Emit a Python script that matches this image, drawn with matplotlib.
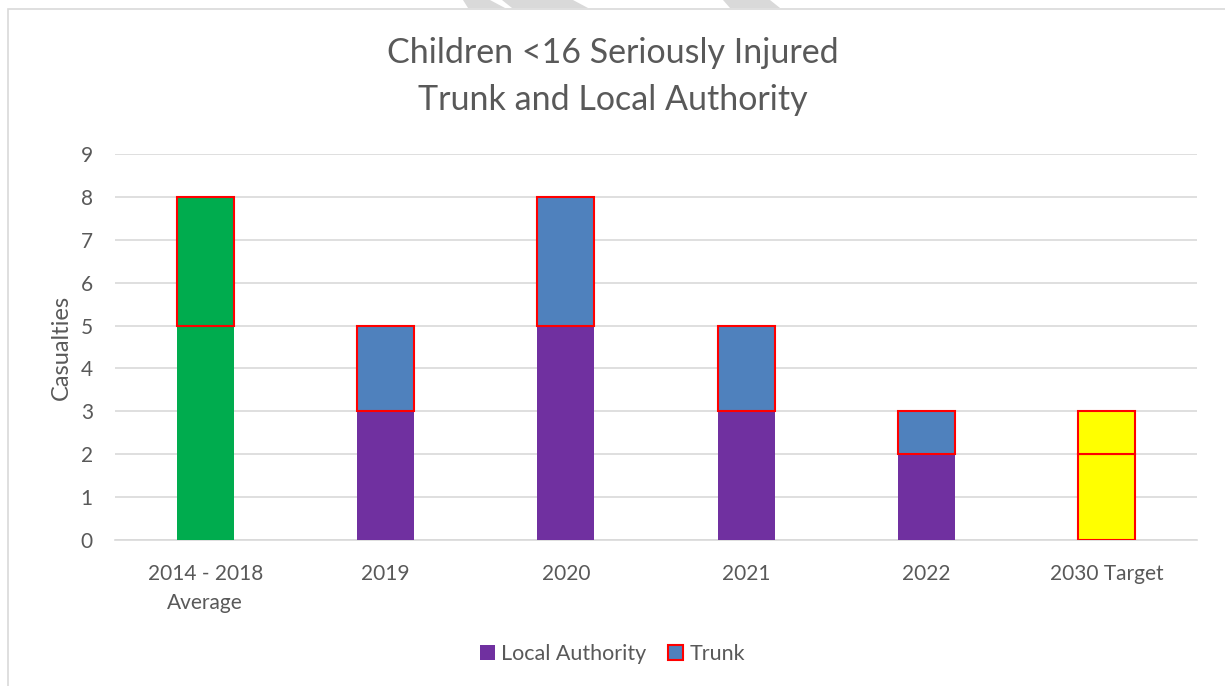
import matplotlib.pyplot as plt
from matplotlib.patches import Rectangle, Polygon, Patch

plt.rcParams['font.family'] = ['Lato', 'DejaVu Sans']

categories = ['2014 - 2018\nAverage', '2019', '2020', '2021', '2022', '2030 Target']
local_authority = [5, 3, 5, 3, 2, 2]
trunk = [3, 2, 3, 2, 1, 1]

la_colors = ['#00ac4e', '#7030a0', '#7030a0', '#7030a0', '#7030a0', '#ffff00']
trunk_colors = ['#00ac4e', '#4f81bd', '#4f81bd', '#4f81bd', '#4f81bd', '#ffff00']
la_edges = ['none', 'none', 'none', 'none', 'none', '#ff0000']

fig = plt.figure(figsize=(12.25, 6.86), dpi=100)
ax = fig.add_axes([0.0939, 0.2128, 0.8833, 0.5627])

# frame of the chart area and the watermark above it
fig.patches.append(Rectangle((8 / 1225, -0.01), 1.1, 1 - 9 / 686 + 0.01, transform=fig.transFigure,
                             fill=False, edgecolor='#d9d9d9', lw=1.2))
stripes = [((463, 490), (468, 505)), ((502, 573), (512, 588)), ((723, 770), (730, 780))]
for (t0, t1), (b0, b1) in stripes:
    pts = [(t0 / 1225, 1), (t1 / 1225, 1), (b1 / 1225, 1 - 8 / 686), (b0 / 1225, 1 - 8 / 686)]
    fig.patches.append(Polygon(pts, closed=True, transform=fig.transFigure, facecolor='#d9d9d9', edgecolor='none'))

x = range(len(categories))
w = 0.316
for i in x:
    ax.bar(i, local_authority[i], w, color=la_colors[i], edgecolor=la_edges[i], linewidth=1.5, zorder=3)
    ax.bar(i, trunk[i], w, bottom=local_authority[i], color=trunk_colors[i], edgecolor='#ff0000',
           linewidth=1.5, zorder=3)

ax.set_xlim(-0.5, len(categories) - 0.5)
ax.set_ylim(0, 9)
ax.set_yticks(range(10))
ax.set_xticks(list(x))
ax.set_xticklabels(categories, linespacing=1.6)
ax.tick_params(axis='both', length=0, labelsize=15, labelcolor='#595959')
ax.tick_params(axis='x', pad=17)
ax.tick_params(axis='y', pad=16)
ax.yaxis.grid(True, color='#d9d9d9', lw=1.2, zorder=0)
for s in ['top', 'right', 'left']:
    ax.spines[s].set_visible(False)
ax.spines['bottom'].set_color('#d9d9d9')
ax.spines['bottom'].set_linewidth(1.2)
ax.set_ylabel('Casualties', fontsize=17, color='#595959', labelpad=6)

fig.text(0.5, 1 - 53 / 686, 'Children <16 Seriously Injured', ha='center', va='center',
         fontsize=24.5, color='#595959')
fig.text(0.5, 1 - 100 / 686, 'Trunk and Local Authority', ha='center', va='center',
         fontsize=24.5, color='#595959')

handles = [Patch(facecolor='#7030a0', edgecolor='none', label='Local Authority'),
           Patch(facecolor='#4f81bd', edgecolor='#ff0000', lw=1.5, label='Trunk')]
fig.legend(handles=handles, loc='center', bbox_to_anchor=(0.5, 1 - 654 / 686), ncol=2, frameon=False,
           fontsize=15.5, labelcolor='#595959', handlelength=0.7, handleheight=0.7,
           handletextpad=0.3, columnspacing=1.0)

fig.savefig('out.png', dpi=100)
